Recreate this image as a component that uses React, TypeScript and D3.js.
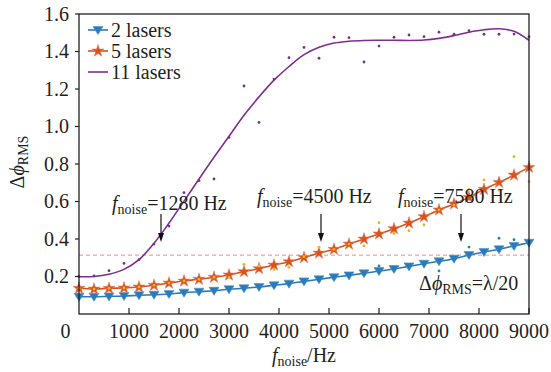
import React from "react";
import * as d3 from "d3";

const freqs: number[] = d3.range(0, 9001, 300);

const twoLasersFit: number[] = [0.092, 0.092, 0.094, 0.096, 0.1, 0.103, 0.107, 0.114, 0.119, 0.124, 0.132, 0.137, 0.144, 0.153, 0.162, 0.174, 0.185, 0.196, 0.206, 0.217, 0.229, 0.24, 0.254, 0.268, 0.281, 0.295, 0.315, 0.331, 0.345, 0.363, 0.38];
const twoLasersRaw: number[] = [0.092, 0.092, 0.094, 0.096, 0.1, 0.103, 0.107, 0.114, 0.119, 0.124, 0.132, 0.137, 0.144, 0.153, 0.162, 0.174, 0.185, 0.196, 0.206, 0.217, 0.256, 0.24, 0.254, 0.268, 0.23, 0.295, 0.357, 0.331, 0.404, 0.396, 0.38];

const fiveLasersFit: number[] = [0.137, 0.133, 0.137, 0.139, 0.144, 0.153, 0.165, 0.176, 0.185, 0.196, 0.208, 0.226, 0.242, 0.261, 0.279, 0.301, 0.325, 0.345, 0.373, 0.4, 0.427, 0.455, 0.485, 0.519, 0.555, 0.587, 0.622, 0.665, 0.702, 0.741, 0.782];
const fiveLasersRaw: number[] = [0.137, 0.133, 0.137, 0.139, 0.144, 0.153, 0.165, 0.176, 0.185, 0.196, 0.195, 0.265, 0.256, 0.238, 0.249, 0.306, 0.356, 0.345, 0.373, 0.363, 0.487, 0.43, 0.444, 0.475, 0.555, 0.581, 0.665, 0.715, 0.661, 0.839, 0.706];

const elevenLasersFit: number[] = [0.199, 0.2, 0.212, 0.238, 0.29, 0.377, 0.485, 0.602, 0.72, 0.836, 0.948, 1.06, 1.158, 1.247, 1.32, 1.383, 1.423, 1.445, 1.455, 1.459, 1.46, 1.46, 1.459, 1.461, 1.47, 1.485, 1.503, 1.516, 1.521, 1.508, 1.46];
const elevenLasersRaw: number[] = [0.2, 0.203, 0.231, 0.27, 0.29, 0.373, 0.469, 0.647, 0.711, 0.72, 0.942, 1.216, 1.022, 1.253, 1.367, 1.422, 1.364, 1.476, 1.474, 1.344, 1.429, 1.476, 1.488, 1.479, 1.503, 1.492, 1.511, 1.492, 1.492, 1.493, 1.479];

const xTicks: number[] = [1000, 2000, 3000, 4000, 5000, 6000, 7000, 8000, 9000];
const yTicks: number[] = [0.2, 0.4, 0.6, 0.8, 1.0, 1.2, 1.4, 1.6];
const thresholdValue = 0.314;
const annotations = [
  { label: "1280", arrowAt: 1640, textX: 112, textY: 210 },
  { label: "4500", arrowAt: 4840, textX: 257, textY: 203 },
  { label: "7580", arrowAt: 7640, textX: 398, textY: 203 },
];

const BLUE = "#2b7bba";
const ORANGE = "#d95319";
const YELLOW = "#edb120";
const PURPLE = "#7e2f8e";
const TEXT = "#231f20";
const FONT = "'Liberation Serif', 'Times New Roman', serif";

export default function App() {
  const W = 551, H = 372;
  const x = d3.scaleLinear().domain([0, 9000]).range([79, 529]);
  const y = d3.scaleLinear().domain([0, 1.6]).range([314, 14]);
  const line = d3.line<number>().x((_, i) => x(freqs[i])).y((v) => y(v)).curve(d3.curveCatmullRom);
  const star = d3.symbol().type(d3.symbolStar).size(46)();
  const tri = "M-5,-3.5L5,-3.5L0,4.5Z";

  const fnoise = (sub: number) => [
    <tspan key="f" fontStyle="italic">f</tspan>,
    <tspan key="n" fontSize={sub} dy={4}>noise</tspan>,
  ];

  return (
    <svg width={W} height={H} style={{ position: "absolute", left: 0, top: 0, background: "#fff" }} fontFamily={FONT}>
      {/* threshold */}
      <line x1={x(0)} x2={x(9000)} y1={y(thresholdValue)} y2={y(thresholdValue)} stroke="#f08a8a" strokeWidth={1} strokeDasharray="4,3" />

      {/* series lines */}
      <path d={line(twoLasersFit) || ""} fill="none" stroke={BLUE} strokeWidth={1.6} />
      <path d={line(fiveLasersFit) || ""} fill="none" stroke={ORANGE} strokeWidth={1.6} />
      <path d={line(elevenLasersFit) || ""} fill="none" stroke={PURPLE} strokeWidth={1.6} />

      {/* markers */}
      {twoLasersFit.map((v, i) => (
        <path key={"b" + i} d={tri} transform={`translate(${x(freqs[i])},${y(v)})`} fill={BLUE} stroke="#4a90c8" strokeWidth={0.6} />
      ))}
      {fiveLasersFit.map((v, i) => (
        <path key={"o" + i} d={star} transform={`translate(${x(freqs[i])},${y(v)})`} fill={ORANGE} stroke="#e8806a" strokeWidth={0.6} />
      ))}

      {/* raw dots */}
      {twoLasersRaw.map((v, i) => (
        <circle key={"bd" + i} cx={x(freqs[i])} cy={y(v)} r={1.4} fill={BLUE} />
      ))}
      {fiveLasersRaw.map((v, i) => (
        <circle key={"od" + i} cx={x(freqs[i])} cy={y(v)} r={1.4} fill={YELLOW} />
      ))}
      {elevenLasersRaw.map((v, i) => (
        <circle key={"pd" + i} cx={x(freqs[i])} cy={y(v)} r={1.4} fill={PURPLE} />
      ))}

      {/* axes box */}
      <rect x={x(0)} y={y(1.6)} width={x(9000) - x(0)} height={y(0) - y(1.6)} fill="none" stroke="#222" strokeWidth={1.3} />
      {xTicks.map((t) => (
        <g key={"xt" + t}>
          <line x1={x(t)} x2={x(t)} y1={y(0)} y2={y(0) - 6} stroke="#222" strokeWidth={1.2} />
          <text x={x(t)} y={338} textAnchor="middle" fontSize={20} fill={TEXT}>{t}</text>
        </g>
      ))}
      <text x={65.5} y={338} textAnchor="middle" fontSize={20} fill={TEXT}>0</text>
      {yTicks.map((t) => (
        <g key={"yt" + t}>
          <line x1={x(0) - 4} x2={x(0)} y1={y(t)} y2={y(t)} stroke="#222" strokeWidth={1.2} />
          <text x={69} y={y(t)} dy="0.33em" textAnchor="end" fontSize={20} fill={TEXT}>{t.toFixed(1)}</text>
        </g>
      ))}

      {/* axis titles */}
      <text x={304} y={362} textAnchor="middle" fontSize={20} fill={TEXT}>
        {fnoise(14)}
        <tspan dy={-4}>/Hz</tspan>
      </text>
      <text transform="translate(24,162) rotate(-90)" textAnchor="middle" fontSize={20} fill={TEXT}>
        Δ<tspan fontStyle="italic">ϕ</tspan><tspan fontSize={14} dy={4}>RMS</tspan>
      </text>

      {/* annotations */}
      {annotations.map((a) => (
        <g key={a.label}>
          <text x={a.textX} y={a.textY} fontSize={20} fill={TEXT}>
            {fnoise(14)}
            <tspan dy={-4}>={a.label} Hz</tspan>
          </text>
          <line x1={x(a.arrowAt)} x2={x(a.arrowAt)} y1={214} y2={236} stroke="#111" strokeWidth={1.2} />
          <path d={`M${x(a.arrowAt) - 3},${233}L${x(a.arrowAt) + 3},${233}L${x(a.arrowAt)},${242}Z`} fill="#111" />
        </g>
      ))}
      <text x={419} y={290} fontSize={20} fill={TEXT}>
        Δ<tspan fontStyle="italic">ϕ</tspan><tspan fontSize={14} dy={4}>RMS</tspan><tspan dy={-4}>=λ/20</tspan>
      </text>

      {/* legend */}
      <g>
        <line x1={88} x2={108} y1={30} y2={30} stroke={BLUE} strokeWidth={1.6} />
        <path d={tri} transform="translate(98,30)" fill={BLUE} stroke="#4a90c8" strokeWidth={0.6} />
        <text x={111} y={30} dy="0.33em" fontSize={20} fill={TEXT}>2 lasers</text>
        <line x1={88} x2={108} y1={51} y2={51} stroke={ORANGE} strokeWidth={1.6} />
        <path d={star} transform="translate(98,51)" fill={ORANGE} stroke="#e8806a" strokeWidth={0.6} />
        <text x={111} y={51} dy="0.33em" fontSize={20} fill={TEXT}>5 lasers</text>
        <line x1={88} x2={108} y1={72} y2={72} stroke={PURPLE} strokeWidth={1.6} />
        <text x={111} y={72} dy="0.33em" fontSize={20} fill={TEXT}>11 lasers</text>
      </g>
    </svg>
  );
}
